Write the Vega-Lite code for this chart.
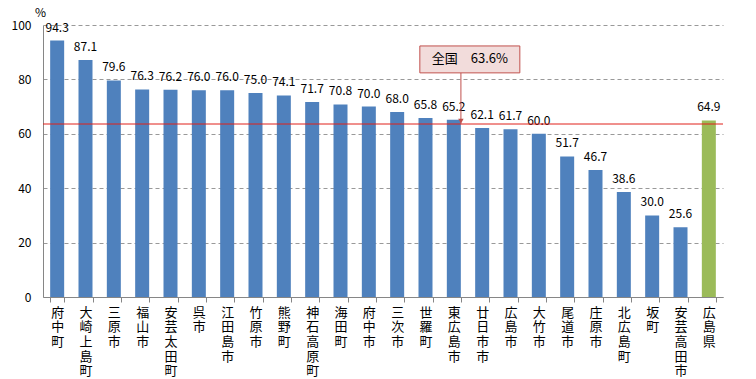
{
  "$schema": "https://vega.github.io/schema/vega-lite/v6.json",
  "width": 680,
  "height": 272,
  "autosize": {"type": "none"},
  "padding": {"left": 43, "top": 25, "right": 33, "bottom": 82},
  "background": "white",
  "config": {
    "view": {"stroke": null},
    "font": "Noto Sans CJK JP",
    "axis": {"labelFont": "Noto Sans CJK JP", "titleFont": "Noto Sans CJK JP"}
  },
  "datasets": {
    "rates": [
      {"name": "府中町", "value": 94.3, "type": "市町"},
      {"name": "大崎上島町", "value": 87.1, "type": "市町"},
      {"name": "三原市", "value": 79.6, "type": "市町"},
      {"name": "福山市", "value": 76.3, "type": "市町"},
      {"name": "安芸太田町", "value": 76.2, "type": "市町"},
      {"name": "呉市", "value": 76.0, "type": "市町"},
      {"name": "江田島市", "value": 76.0, "type": "市町"},
      {"name": "竹原市", "value": 75.0, "type": "市町"},
      {"name": "熊野町", "value": 74.1, "type": "市町"},
      {"name": "神石高原町", "value": 71.7, "type": "市町"},
      {"name": "海田町", "value": 70.8, "type": "市町"},
      {"name": "府中市", "value": 70.0, "type": "市町"},
      {"name": "三次市", "value": 68.0, "type": "市町"},
      {"name": "世羅町", "value": 65.8, "type": "市町"},
      {"name": "東広島市", "value": 65.2, "type": "市町"},
      {"name": "廿日市市", "value": 62.1, "type": "市町"},
      {"name": "広島市", "value": 61.7, "type": "市町"},
      {"name": "大竹市", "value": 60.0, "type": "市町"},
      {"name": "尾道市", "value": 51.7, "type": "市町"},
      {"name": "庄原市", "value": 46.7, "type": "市町"},
      {"name": "北広島町", "value": 38.6, "type": "市町"},
      {"name": "坂町", "value": 30.0, "type": "市町"},
      {"name": "安芸高田市", "value": 25.6, "type": "市町"},
      {"name": "広島県", "value": 64.9, "type": "県"}
    ],
    "national": [
      {"name": "東広島市", "label": "全国　63.6%", "value": 63.6, "top": 92.3, "bottom": 82.4, "mid": 87.35}
    ]
  },
  "layer": [
    {
      "data": {"name": "rates"},
      "mark": {"type": "bar", "width": 14},
      "encoding": {
        "x": {
          "field": "name", "type": "nominal", "sort": null,
          "scale": {"paddingInner": 0.5, "paddingOuter": 0.25},
          "axis": {
            "title": null, "labelAngle": 0, "labelExpr": "split(datum.label, '')",
            "labelBaseline": "top", "labelAlign": "center",
            "labelFontSize": 13, "labelLineHeight": 14.7, "labelColor": "#000",
            "labelPadding": 4, "tickBand": "extent", "tickSize": 5,
            "tickColor": "#868686", "domainColor": "#868686", "grid": false
          }
        },
        "y": {
          "field": "value", "type": "quantitative",
          "scale": {"domain": [0, 100], "nice": false},
          "axis": {
            "values": [0, 20, 40, 60, 80, 100], "title": "%", "titleAngle": 0,
            "titleAlign": "center", "titleBaseline": "bottom", "titleX": -3, "titleY": -6,
            "titleFontSize": 12, "titleFontWeight": "normal", "titleColor": "#000",
            "labelFontSize": 12, "labelColor": "#000", "labelPadding": 12,
            "ticks": false, "domainColor": "#868686",
            "gridColor": "#999", "gridDash": [4, 3], "gridWidth": 1
          }
        },
        "color": {
          "field": "type", "type": "nominal",
          "scale": {"domain": ["市町", "県"], "range": ["#4F81BD", "#9BBB59"]},
          "legend": null
        }
      }
    },
    {
      "data": {"name": "rates"},
      "mark": {"type": "text", "baseline": "bottom", "dy": -6, "fontSize": 12, "color": "#000"},
      "encoding": {
        "x": {"field": "name", "type": "nominal", "sort": null},
        "y": {"field": "value", "type": "quantitative"},
        "text": {"field": "value", "type": "quantitative", "format": ".1f"}
      }
    },
    {
      "data": {"name": "national"},
      "mark": {"type": "rule", "color": "#E0201B", "strokeWidth": 1},
      "encoding": {"y": {"field": "value", "type": "quantitative"}}
    },
    {
      "data": {"name": "national"},
      "mark": {"type": "rule", "color": "#C0504D", "strokeWidth": 1},
      "encoding": {
        "x": {"field": "name", "type": "nominal", "sort": null, "bandPosition": 1},
        "y": {"field": "bottom", "type": "quantitative"},
        "y2": {"field": "value"}
      }
    },
    {
      "data": {"name": "national"},
      "mark": {"type": "point", "shape": "triangle-down", "filled": true, "color": "#C0504D", "size": 30, "yOffset": -3, "opacity": 1},
      "encoding": {
        "x": {"field": "name", "type": "nominal", "sort": null, "bandPosition": 1},
        "y": {"field": "value", "type": "quantitative"}
      }
    },
    {
      "data": {"name": "national"},
      "mark": {"type": "bar", "width": 100, "xOffset": 16, "fill": "#F2DCDB", "stroke": "#C0504D", "strokeWidth": 1},
      "encoding": {
        "x": {"field": "name", "type": "nominal", "sort": null},
        "y": {"field": "top", "type": "quantitative"},
        "y2": {"field": "bottom"}
      }
    },
    {
      "data": {"name": "national"},
      "mark": {"type": "text", "fontSize": 13, "color": "#000", "xOffset": 16, "baseline": "middle", "align": "center"},
      "encoding": {
        "x": {"field": "name", "type": "nominal", "sort": null},
        "y": {"field": "mid", "type": "quantitative"},
        "text": {"field": "label"}
      }
    }
  ]
}
